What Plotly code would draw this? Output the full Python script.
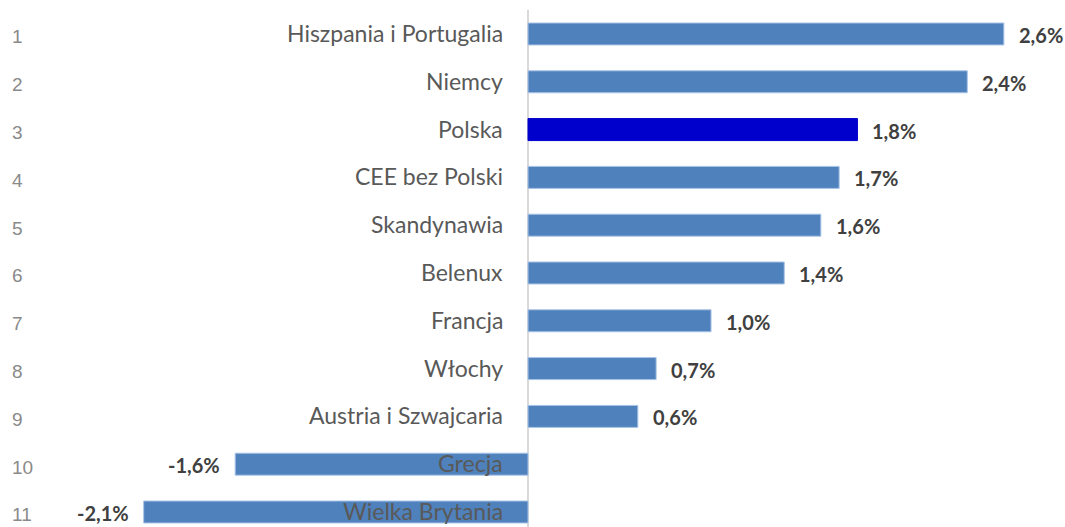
import plotly.graph_objects as go

categories = ["Hiszpania i Portugalia", "Niemcy", "Polska", "CEE bez Polski", "Skandynawia",
              "Belenux", "Francja", "Włochy", "Austria i Szwajcaria", "Grecja", "Wielka Brytania"]
values = [2.6, 2.4, 1.8, 1.7, 1.6, 1.4, 1.0, 0.7, 0.6, -1.6, -2.1]
ranks = [str(i) for i in range(1, 12)]
highlight = "Polska"

BLUE = "#4F81BD"
DARK = "#0000CC"

ypos = list(range(len(categories)))
colors = [DARK if c == highlight else BLUE for c in categories]
line_colors = [DARK if c == highlight else "#A9C4E6" for c in categories]

fig = go.Figure()
fig.add_trace(go.Bar(
    x=values, y=ypos, orientation="h", width=0.46,
    marker=dict(color=colors, line=dict(color=line_colors, width=1)),
    hoverinfo="skip",
))

annotations = []
for y, c, v, r in zip(ypos, categories, values, ranks):
    annotations.append(dict(x=0, y=y, xref="x", yref="y", text=c, showarrow=False,
                            xanchor="right", xshift=-23, yshift=1,
                            font=dict(family="Lato", size=23, color="#595959")))
    lab = f"{v:.1f}".replace(".", ",") + "%"
    annotations.append(dict(x=v, y=y, xref="x", yref="y", text=lab, showarrow=False,
                            xanchor="left" if v >= 0 else "right",
                            xshift=13 if v >= 0 else -13, yshift=-1,
                            font=dict(family="Lato", size=20, color="#404040", weight="bold")))
    annotations.append(dict(x=0.009, y=y, xref="paper", yref="y", text=r, showarrow=False,
                            xanchor="left", yshift=-3,
                            font=dict(family="Liberation Sans", size=19, color="#8a8a8a")))

fig.update_layout(
    width=1065, height=527,
    margin=dict(l=0, r=0, t=0, b=0),
    paper_bgcolor="white", plot_bgcolor="white",
    showlegend=False,
    annotations=annotations,
    xaxis=dict(range=[-2.885, 2.934], visible=False, zeroline=False, showgrid=False),
    yaxis=dict(range=[10.314, -0.711], visible=False, zeroline=False, showgrid=False),
    shapes=[dict(type="line", xref="x", yref="y", x0=0, x1=0, y0=-0.50, y1=10.314,
                 line=dict(color="#D9D9D9", width=2), layer="below")],
)

fig.write_html("out.html", config={"displayModeBar": False},
               post_script="document.body.style.margin='0';")
